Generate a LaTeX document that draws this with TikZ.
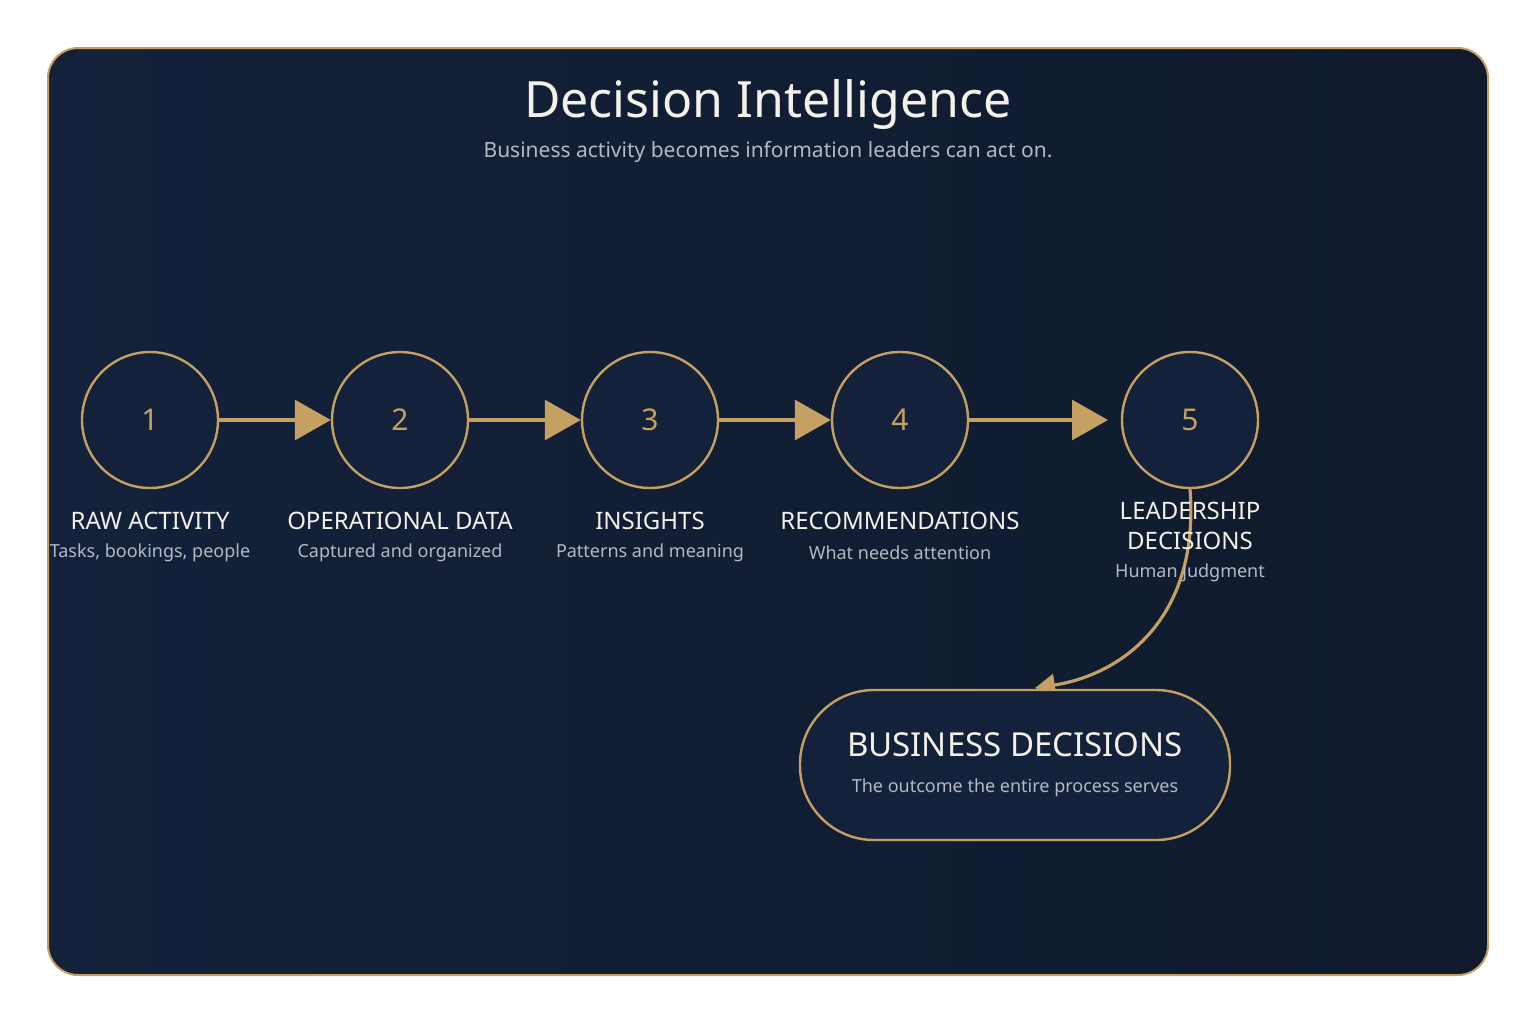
\documentclass[tikz,border=0pt]{standalone}
\usepackage{fontspec}
\setmainfont{Noto Sans}
\usetikzlibrary{positioning,arrows.meta}
\definecolor{gold}{HTML}{C4A063}
\definecolor{navy}{HTML}{13213A}
\definecolor{navydark}{HTML}{0F1A2C}
\definecolor{softgray}{HTML}{B4B9C2}
\definecolor{ivory}{HTML}{F4F1EA}
\begin{document}
\begin{tikzpicture}[x=0.5pt,y=-0.5pt,
    stepnode/.style={circle, draw=gold, line width=1.2pt, fill=navy, minimum size=68pt, inner sep=0pt,
      text=gold, font=\fontsize{15}{18}\selectfont\bfseries},
    steptitle/.style={text=ivory, font=\fontsize{12}{15}\selectfont\bfseries, align=center},
    stepsub/.style={text=softgray, font=\fontsize{9}{11}\selectfont},
    flow/.style={draw=gold, line width=1.6pt, -{Triangle[length=18pt,width=20pt]}},
  ]
  \useasboundingbox (0,0) rectangle (1536,1024);
  \fill[white] (0,0) rectangle (1536,1024);
  \draw[gold, line width=1pt, left color=navy, right color=navydark, rounded corners=15pt]
    (48,48) rectangle (1488,975);

  \node[text=ivory, font=\fontsize{25}{30}\selectfont] (title) at (768,104) {Decision Intelligence};
  \node[text=softgray, font=\fontsize{10.5}{13}\selectfont] (subtitle) at (768,152)
    {Business activity becomes information leaders can act on.};

  \node[stepnode] (s1) at (150,420) {1};
  \node[stepnode] (s2) at (400,420) {2};
  \node[stepnode] (s3) at (650,420) {3};
  \node[stepnode] (s4) at (900,420) {4};
  \node[stepnode] (s5) at (1190,420) {5};
  \coordinate (s5in) at (1108,420);

  \draw[flow] (s1) -- (s2);
  \draw[flow] (s2) -- (s3);
  \draw[flow] (s3) -- (s4);
  \draw[flow] (s4) -- (s5in);

  \node[steptitle] (t1) at (150,521) {RAW ACTIVITY};
  \node[stepsub] (d1) at (150,553) {Tasks, bookings, people};
  \node[steptitle] (t2) at (400,521) {OPERATIONAL DATA};
  \node[stepsub] (d2) at (400,553) {Captured and organized};
  \node[steptitle] (t3) at (650,521) {INSIGHTS};
  \node[stepsub] (d3) at (650,553) {Patterns and meaning};
  \node[steptitle] (t4) at (900,521) {RECOMMENDATIONS};
  \node[stepsub] (d4) at (900,553) {What needs attention};

  % curved link to the outcome
  \coordinate (bend) at (1035,688);
  \draw[draw=gold, line width=1.6pt, -{Triangle[length=10pt,width=11pt]}]
    (s5.south) .. controls (1200,620) and (1120,675) .. (bend);

  \node[steptitle] (t5) at (1190,526) {LEADERSHIP\\DECISIONS};
  \node[stepsub] (d5) at (1190,573) {Human judgment};

  \node[draw=gold, line width=1.2pt, fill=navy, rounded corners=37pt,
    minimum width=215pt, minimum height=75pt] (outcome) at (1015,765) {};
  \node[text=ivory, font=\fontsize{16.5}{20}\selectfont\bfseries] (otitle) at (1015,745) {BUSINESS DECISIONS};
  \node[stepsub] (osub) at (1015,788) {The outcome the entire process serves};
\end{tikzpicture}
\end{document}
